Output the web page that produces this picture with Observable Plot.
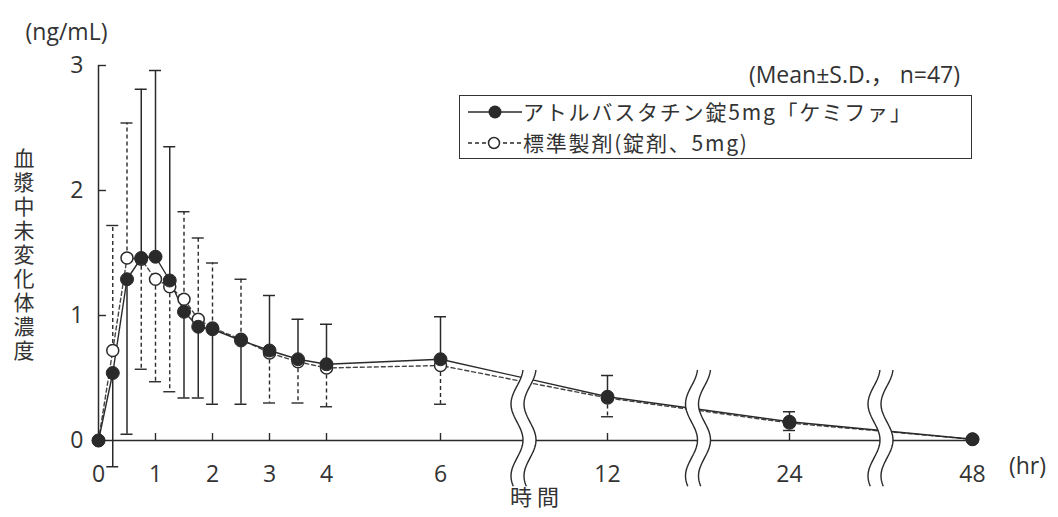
<!DOCTYPE html>
<html><head><meta charset="utf-8">
<script src="https://cdn.jsdelivr.net/npm/d3@7"></script>
<script src="https://cdn.jsdelivr.net/npm/@observablehq/plot@0.6"></script>
<style>
html,body{margin:0;padding:0;background:#fff;}
#wrap{position:relative;width:1058px;height:517px;overflow:hidden;}
.ov{position:absolute;font-family:"Open Sans","Noto Sans CJK JP",sans-serif;color:#333;white-space:nowrap;line-height:1.1;}
#legend{position:absolute;left:459px;top:95px;width:511px;height:62px;border:1.5px solid #333;background:#fff;}
.row{position:absolute;left:6px;height:31px;display:flex;align-items:center;font-family:"Noto Sans CJK JP","Open Sans",sans-serif;font-size:21px;letter-spacing:1.8px;line-height:31px;color:#333;white-space:nowrap;}
.row span{display:block;line-height:31px;height:31px;}
.row svg{margin-right:1px;}
</style></head><body><div id="wrap"></div>
<script>
// ---- data ----
const times    = [0, 0.25, 0.5, 0.75, 1, 1.25, 1.5, 1.75, 2, 2.5, 3, 3.5, 4, 6, 12, 24, 48];
const testMean = [0, 0.54, 1.29, 1.46, 1.47, 1.28, 1.03, 0.91, 0.89, 0.80, 0.72, 0.65, 0.61, 0.65, 0.35, 0.15, 0.01];
const testSD   = [0, 0.75, 1.24, 1.35, 1.49, 1.07, 0.69, 0.57, 0.60, 0.51, 0.44, 0.32, 0.32, 0.34, 0.17, 0.08, 0];
const refMean  = [0, 0.72, 1.46, 1.45, 1.29, 1.23, 1.13, 0.97, 0.90, 0.81, 0.70, 0.63, 0.58, 0.60, 0.34, 0.14, 0.01];
const refSD    = [0, 1.00, 1.08, 0.88, 0.82, 0.84, 0.70, 0.65, 0.52, 0.48, 0.40, 0.33, 0.31, 0.31, 0.15, 0.06, 0];
const xTicks = [0, 1, 2, 3, 4, 6, 12, 24, 48];
const yTicks = [0, 1, 2, 3];
const breakAt = [9, 18, 36];
const breakSpan = [-0.37, 0.56];
const seriesNames = ["アトルバスタチン錠5mg「ケミファ」", "標準製剤(錠剤、5mg)"];
const yLabel = "血漿中未変化体濃度";
const yUnit = "(ng/mL)";
const xLabel = "時 間";
const xUnit = "(hr)";
const note = "(Mean±S.D.， n=47)";

// ---- derived tables ----
const rows = times.map((t, i) => ({t, test: testMean[i], tsd: testSD[i], ref: refMean[i], rsd: refSD[i]}));
const testBars = rows.filter(r => r.tsd > 0).map(r => ({t: r.t, y1: r.test, y2: r.test >= r.ref ? r.test + r.tsd : r.test - r.tsd}));
const refBars = rows.filter(r => r.rsd > 0).map(r => ({t: r.t, y1: r.ref, y2: r.test >= r.ref ? r.ref - r.rsd : r.ref + r.rsd}));

const ink = "#2a2a2a";
const dash = "4,3";

function breaks(index, {x, y}) {
  const g = d3.create("svg:g");
  const yTop = y(breakSpan[1]), yBot = y(breakSpan[0]), yAx = y(0);
  const n = 60;
  for (const b of breakAt) {
    const cx = x(b);
    const wave = off => d3.range(n + 1).map(k => {
      const yy = yTop + (yBot - yTop) * k / n;
      return [cx + off + 6 * Math.cos(Math.PI * (yy - yAx) / 36), yy];
    });
    const L = wave(-6.5), R = wave(6.5);
    g.append("path").attr("d", d3.line()(L.concat(R.slice().reverse())) + "Z").attr("fill", "white").attr("stroke", "none");
    g.append("path").attr("d", d3.line()(L)).attr("fill", "none").attr("stroke", ink).attr("stroke-width", 1.4);
    g.append("path").attr("d", d3.line()(R)).attr("fill", "none").attr("stroke", ink).attr("stroke-width", 1.4);
  }
  return g.node();
}

// vertical (upright) y-axis title
function yTitle(index, scales, values, dims) {
  const {marginTop, height, marginBottom} = dims;
  return d3.create("svg:text")
    .attr("x", 24)
    .attr("y", (marginTop + height - marginBottom) / 2 + 3)
    .attr("text-anchor", "middle")
    .attr("fill", "#333")
    .attr("font-size", 21)
    .attr("font-family", '"Noto Sans CJK JP",sans-serif')
    .style("writing-mode", "vertical-rl")
    .style("text-orientation", "upright")
    .style("letter-spacing", "3px")
    .text(yLabel)
    .node();
}

const chart = Plot.plot({
  width: 1058, height: 517,
  marginLeft: 98, marginRight: 86, marginTop: 65, marginBottom: 77,
  style: {fontFamily: '"Open Sans","Noto Sans CJK JP",sans-serif', fontSize: "23px", color: "#333", background: "white", overflow: "visible"},
  x: {type: "linear", domain: [0, 6, 12, 24, 48], range: [98, 440, 607, 789, 972]},
  y: {domain: [0, 3]},
  marks: [
    // axes lines and inward ticks
    Plot.ruleY([0], {x1: 0, x2: 48, stroke: ink, strokeWidth: 1.5}),
    Plot.ruleX([0], {y1: 0, y2: 3, stroke: ink, strokeWidth: 1.5}),
    Plot.ruleX(xTicks.filter(d => d > 0), {x: d => d, y1: 0, y2: 0, insetTop: -7, stroke: ink, strokeWidth: 1.4}),
    Plot.ruleY(yTicks.filter(d => d > 0), {y: d => d, x1: 0, x2: 0, insetRight: -8, stroke: ink, strokeWidth: 1.4}),
    Plot.axisX(xTicks, {tickSize: 0, tickPadding: 25, label: null, fontSize: 23, tickFormat: d => String(d)}),
    Plot.axisY(yTicks, {tickSize: 0, tickPadding: 15, label: null, fontSize: 23, tickFormat: d => String(d)}),
    // error bars
    Plot.ruleX(refBars, {x: "t", y1: "y1", y2: "y2", stroke: ink, strokeWidth: 1.4, strokeDasharray: dash}),
    Plot.ruleY(refBars, {y: "y2", x1: "t", x2: "t", insetLeft: -6, insetRight: -6, stroke: ink, strokeWidth: 1.4}),
    Plot.ruleX(testBars, {x: "t", y1: "y1", y2: "y2", stroke: ink, strokeWidth: 1.5}),
    Plot.ruleY(testBars, {y: "y2", x1: "t", x2: "t", insetLeft: -6, insetRight: -6, stroke: ink, strokeWidth: 1.5}),
    // lines
    Plot.line(rows, {x: "t", y: "ref", stroke: "#444", strokeWidth: 1.4, strokeDasharray: dash}),
    Plot.line(rows, {x: "t", y: "test", stroke: ink, strokeWidth: 1.4}),
    // points
    Plot.dot(rows, {x: "t", y: "ref", r: 6, fill: "white", stroke: ink, strokeWidth: 1.5}),
    Plot.dot(rows, {x: "t", y: "test", r: 6.5, fill: ink, stroke: ink, strokeWidth: 1}),
    // axis breaks
    breaks,
    // axis titles
    yTitle,
    Plot.text([yUnit], {text: d => d, frameAnchor: "top-left", dx: -32, dy: -42, textAnchor: "middle", fontSize: 23, fill: "#333"}),
    Plot.text([xUnit], {text: d => d, frameAnchor: "bottom-right", dx: 55, dy: 33, textAnchor: "middle", fontSize: 23, fill: "#333"}),
    Plot.text([xLabel], {text: d => d, frameAnchor: "bottom-left", dx: 436, dy: 64, textAnchor: "middle", fontSize: 22, fill: "#333", fontFamily: '"Noto Sans CJK JP",sans-serif'})
  ]
});

const wrap = document.getElementById("wrap");
wrap.appendChild(chart);

// annotation + legend
const noteEl = document.createElement("div");
noteEl.className = "ov";
noteEl.style.cssText += "right:98px;top:62px;font-size:23px;";
noteEl.textContent = note;
wrap.appendChild(noteEl);

const lg = document.createElement("div");
lg.id = "legend";
const sw = [
  `<svg width="56" height="20"><line x1="2" x2="56" y1="10" y2="10" stroke="${ink}" stroke-width="1.5"/><circle cx="29" cy="10" r="6.5" fill="${ink}"/></svg>`,
  `<svg width="56" height="20"><line x1="2" x2="57" y1="10" y2="10" stroke="${ink}" stroke-width="1.5" stroke-dasharray="${dash}"/><circle cx="28" cy="10" r="5.5" fill="white" stroke="${ink}" stroke-width="1.5"/></svg>`
];
seriesNames.forEach((name, i) => {
  const r = document.createElement("div");
  r.className = "row";
  r.style.top = (i === 0 ? 0 : 31) + "px";
  r.innerHTML = sw[i] + `<span>${name}</span>`;
  lg.appendChild(r);
});
wrap.appendChild(lg);
</script>
</body></html>
